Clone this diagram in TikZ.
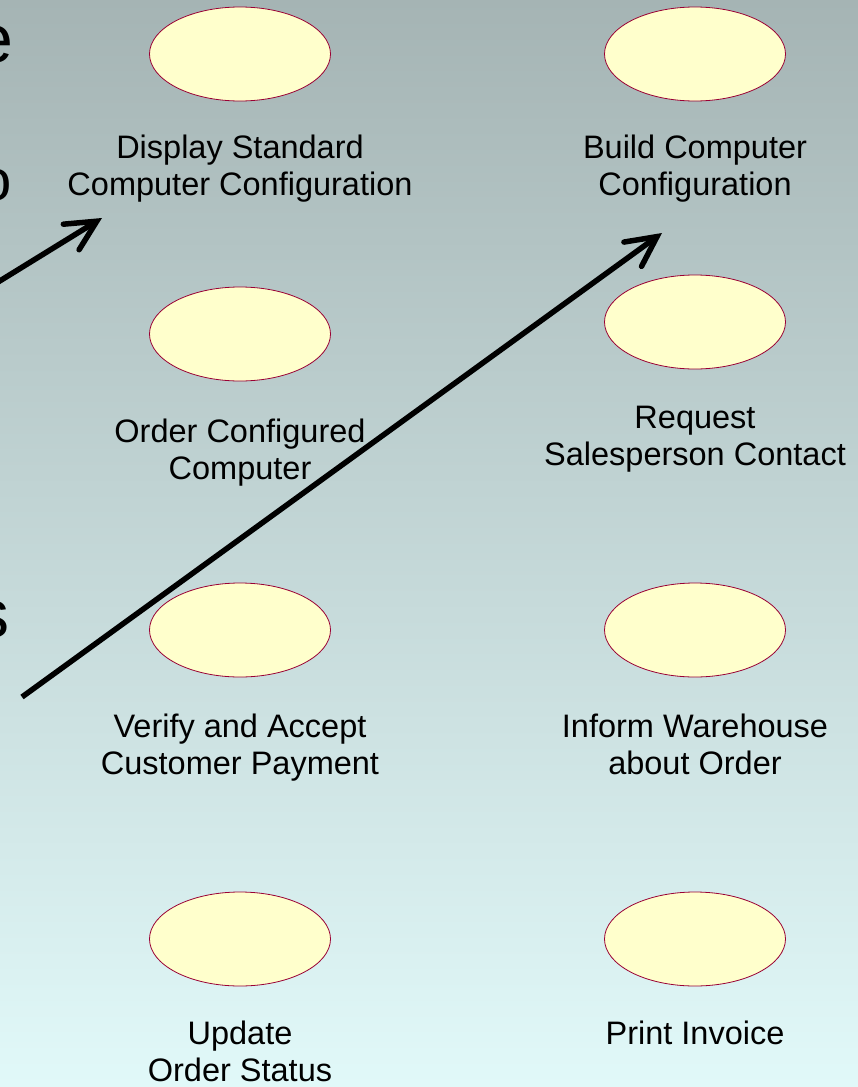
\documentclass[tikz,border=0pt]{standalone}
\usepackage{fontspec}
\setmainfont{Liberation Sans}
\usetikzlibrary{shapes.geometric,arrows.meta}

\definecolor{bgtop}{RGB}{165,180,180}
\definecolor{bgbottom}{RGB}{225,249,249}
\definecolor{ucfill}{RGB}{255,255,204}
\definecolor{ucline}{RGB}{153,0,51}

\begin{document}
\begin{tikzpicture}[
      x=1pt, y=-1pt,
      usecase/.style = {ellipse, draw=ucline, fill=ucfill, line width=0.8pt,
                        minimum width=181pt, minimum height=94pt, inner sep=0pt},
      caption/.style = {align=center, anchor=base, inner sep=0pt,
                        font=\fontsize{32.5}{37}\selectfont},
      tail/.style = {anchor=base east, inner sep=0pt,
                     font=\fontsize{68}{72}\selectfont},
      assoc/.style = {line width=5.5pt,
                      -{Straight Barb[length=30pt,width=30pt,line cap=round]}}
    ]
    \clip (0,0) rectangle (858,1087);
    \shade[top color=bgtop, bottom color=bgbottom] (0,0) rectangle (858,1087);

    % use cases
    \foreach \name/\x/\y in {dispcfg/240/54, buildcfg/695/54,
                             ordercfg/240/334, reqsales/695/322,
                             verpay/240/630, informwh/695/630,
                             updstat/240/939, printinv/695/939}{
      \node[usecase] (\name) at (\x,\y) {};
    }

    % captions (anchored at the baseline of the last line)
    \node[caption] (dispcfg-txt)  at (240,195) {Display Standard\\Computer Configuration};
    \node[caption] (buildcfg-txt) at (695,195) {Build Computer\\Configuration};
    \node[caption] (ordercfg-txt) at (240,479) {Order Configured\\Computer};
    \node[caption] (reqsales-txt) at (695,465) {Request\\Salesperson Contact};
    \node[caption] (verpay-txt)   at (240,774) {Verify and Accept\\Customer Payment};
    \node[caption] (informwh-txt) at (695,774) {Inform Warehouse\\about Order};
    \node[caption] (updstat-txt)  at (240,1081) {Update\\Order Status};
    \node[caption] (printinv-txt) at (695,1044) {Print Invoice};

    % cut-off words at the left edge
    \node[tail] (frag1) at (14,62) {e};
    \node[tail, font=\fontsize{58}{60}\selectfont] (frag2) at (12,200) {o};
    \node[tail] (frag3) at (10,637) {s};

    % associations
    \coordinate (actor1) at (-10,287);
    \coordinate (tip1)   at (102,218);
    \coordinate (actor2) at (22,697);
    \coordinate (tip2)   at (662,233);
    \draw[assoc] (actor1) -- (tip1);
    \draw[assoc] (actor2) -- (tip2);
  \end{tikzpicture}
\end{document}
